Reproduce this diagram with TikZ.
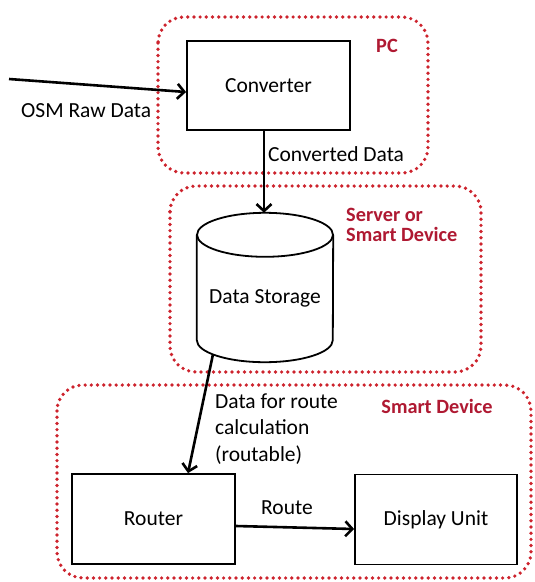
\documentclass[tikz,border=0pt]{standalone}
\usepackage{fontspec}
\setmainfont{Carlito}
\usetikzlibrary{arrows.meta}
\definecolor{grpred}{RGB}{205,35,45}
\definecolor{lblred}{RGB}{175,25,50}
\tikzset{
  x=1pt, y=-1pt,
  txt/.style={font=\fontsize{21.5}{26.5}\selectfont, inner sep=0pt},
  redlbl/.style={font=\fontsize{20.3}{20}\selectfont\bfseries, text=lblred, inner sep=0pt, align=left},
  blk/.style={draw=black, line width=1.8pt, fill=white, font=\fontsize{21.5}{26}\selectfont},
  grp/.style={draw=grpred, line width=3.7pt, dash pattern=on 0pt off 6.2pt, line cap=round, rounded corners=26pt},
  flow/.style={line width=2.6pt, -{Straight Barb[length=7pt,width=15pt,line width=2.6pt]}},
}
\begin{document}
\begin{tikzpicture}
\useasboundingbox (0,0) rectangle (535,582);
% groups
\draw[grp] (158,17) rectangle (428,173);
\draw[grp] (170,186) rectangle (481,372);
\draw[grp] (57,385) rectangle (531,578);
% group labels
\node[redlbl] (pc) at (387,46) {PC};
\node[redlbl, anchor=west] (srv) at (346,225) {Server or\\Smart Device};
\node[redlbl] (sd) at (437,406) {Smart Device};
% blocks
\node[blk, minimum width=163pt, minimum height=89pt] (conv) at (268.5,85.5) {Converter};
\node[minimum width=136pt, minimum height=149pt, inner sep=0pt] (ds) at (265,287.5) {};
\node[txt] (dsl) at (265,298) {Data Storage};
\node[blk, minimum width=163pt, minimum height=90pt] (router) at (153.5,519) {Router};
\node[blk, minimum width=162pt, minimum height=90pt] (disp) at (436,519.5) {Display Unit};
% cylinder
\draw[line width=1.8pt] (ds.north west) ++(0,22) coordinate (tl)
  (ds.north) ++(0,22) ellipse [x radius=68pt, y radius=22pt];
\draw[line width=1.8pt] (tl) -- ([yshift=22]ds.south west)
  arc[start angle=180, end angle=360, x radius=68pt, y radius=22pt]
  -- ([yshift=-22]ds.north east);
% connectors
\coordinate (src) at (9,79);
\draw[flow] (src) -- ([yshift=-6.5]conv.west);
\node[txt, anchor=west] (osm) at (21,111) {OSM Raw Data};
\draw[flow] ([xshift=-4.5]conv.south) -- ([xshift=-1]ds.north);
\node[txt, anchor=west] (cd) at (268,154) {Converted Data};
\draw[flow] ([xshift=-52,yshift=8]ds.south) -- ([xshift=34.5]router.north);
\node[txt, anchor=west, align=left] (dfr) at (215,429) {Data for route\\calculation\\(routable)};
\draw[flow] ([yshift=-7]router.east) -- ([yshift=-9.5]disp.west);
\node[txt] (rt) at (287,508) {Route};
\end{tikzpicture}
\end{document}
